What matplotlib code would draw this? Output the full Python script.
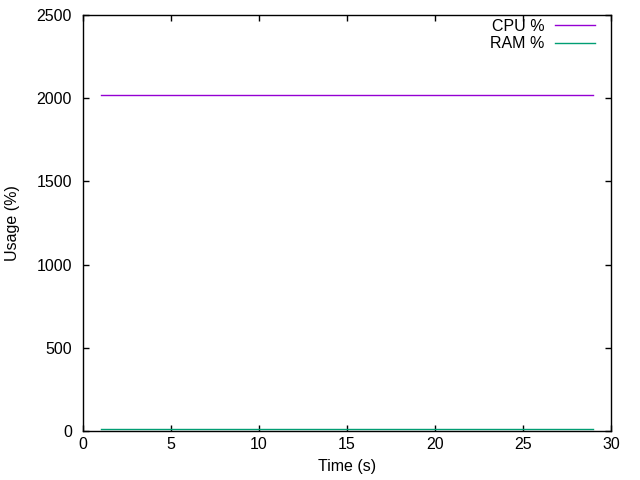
import matplotlib
matplotlib.use("Agg")
import matplotlib.pyplot as plt

time_s = [1, 2, 3, 4, 5, 6, 7, 8, 9, 10, 11, 12, 13, 14, 15, 16, 17, 18, 19, 20,
          21, 22, 23, 24, 25, 26, 27, 28, 29]
cpu_pct = [2020, 2020, 2020, 2020, 2020, 2020, 2020, 2020, 2020, 2020, 2020, 2020,
           2020, 2020, 2020, 2020, 2020, 2020, 2020, 2020, 2020, 2020, 2020, 2020,
           2020, 2020, 2020, 2020, 2020]
ram_pct = [15, 15, 15, 15, 15, 15, 15, 15, 15, 15, 15, 15, 15, 15, 15, 15, 15, 15,
           15, 15, 15, 15, 15, 15, 15, 15, 15, 15, 15]
x_ticks = [0, 5, 10, 15, 20, 25, 30]
y_ticks = [0, 500, 1000, 1500, 2000, 2500]

plt.rcParams['font.family'] = ['Liberation Sans', 'DejaVu Sans']
plt.rcParams['font.size'] = 11.5

fig = plt.figure(figsize=(6.4, 4.8), dpi=100)
ax = fig.add_axes([83/640, 49/480, 528/640, 416/480])

ax.plot(time_s, cpu_pct, color='#9400d3', lw=1, label='CPU %')
ax.plot(time_s, ram_pct, color='#009e73', lw=1, label='RAM %')

ax.set_xlim(0, 30)
ax.set_ylim(0, 2500)
ax.set_xticks(x_ticks)
ax.set_yticks(y_ticks)
ax.tick_params(direction='in', top=True, right=True, length=4, width=1, colors='black')
ax.tick_params(axis='y', pad=8)
ax.tick_params(axis='x', pad=4)
for s in ax.spines.values():
    s.set_linewidth(1)
ax.set_xlabel('Time (s)')
ax.set_ylabel('Usage (%)')
ax.xaxis.set_label_coords(0.5, -(466 - 431) / 416, transform=ax.transAxes)
ax.xaxis.label.set_va('center')
ax.yaxis.set_label_coords((13 - 83) / 528, 0.5, transform=ax.transAxes)
ax.yaxis.label.set_va('center')

leg = ax.legend(loc='upper right', bbox_to_anchor=(595/640, 461/480),
                bbox_transform=fig.transFigure, frameon=False, markerfirst=False,
                handlelength=2.5, handletextpad=0.65, labelspacing=0.15,
                borderpad=0, borderaxespad=0)
for t in leg.get_texts():
    t.set_ha('right')

fig.savefig('out.png', dpi=100)
